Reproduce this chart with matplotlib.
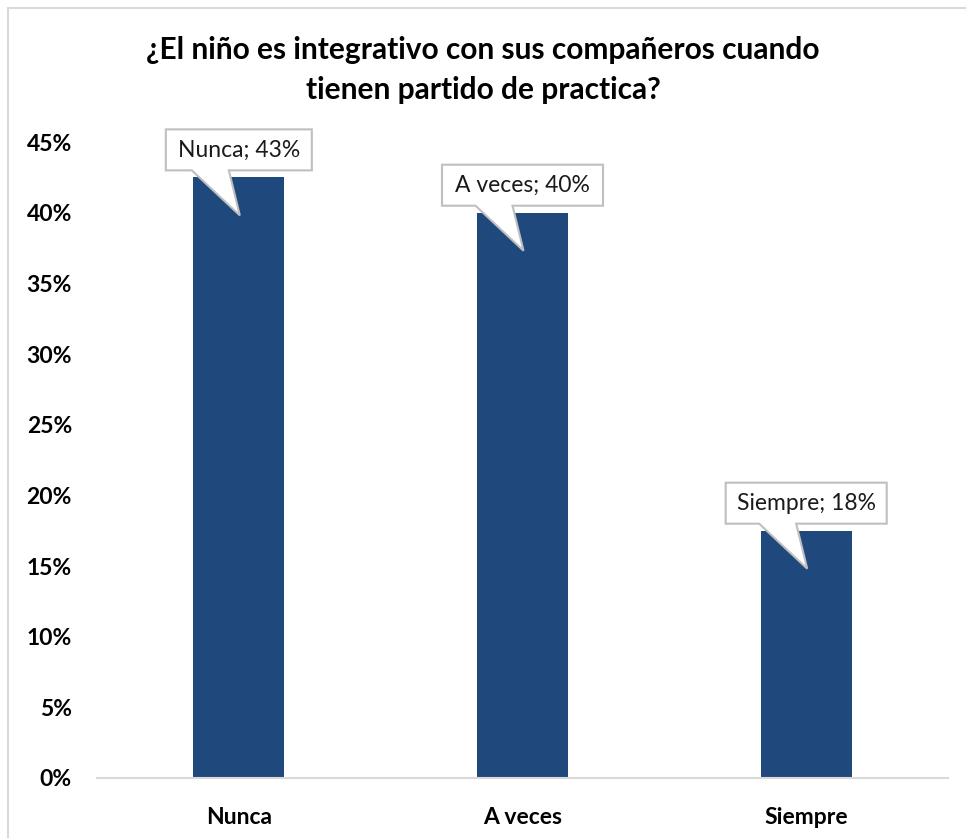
import matplotlib
matplotlib.use('Agg')
import matplotlib.pyplot as plt
import matplotlib.transforms as mtransforms
from matplotlib.patches import Polygon, Rectangle
from matplotlib.ticker import FuncFormatter

categorias = ['Nunca', 'A veces', 'Siempre']
valores = [42.5, 40.0, 17.5]
etiquetas = ['Nunca; 43%', 'A veces; 40%', 'Siempre; 18%']
titulo = '¿El niño es integrativo con sus compañeros cuando\ntienen partido de practica?'

plt.rcParams['font.family'] = ['Lato', 'DejaVu Sans']

fig = plt.figure(figsize=(9.66, 8.38), dpi=100)
ax = fig.add_axes([0.1004, 0.0716, 0.881, 0.7589])

x = list(range(len(categorias)))
ax.bar(x, valores, width=0.32, color='#1f497d', zorder=2)

ax.set_xlim(-0.5, len(categorias) - 0.5)
ax.set_ylim(0, 45)
ax.set_yticks(range(0, 46, 5))
ax.yaxis.set_major_formatter(FuncFormatter(lambda v, p: f'{v:.0f}%'))
ax.set_xticks(x)
ax.set_xticklabels(categorias)
ax.tick_params(length=0)
ax.tick_params(axis='y', pad=18, labelsize=16.5)
ax.tick_params(axis='x', pad=21, labelsize=16.5)
for lab in ax.get_xticklabels() + ax.get_yticklabels():
    lab.set_fontweight('bold')

for s in ['top', 'right', 'left']:
    ax.spines[s].set_visible(False)
ax.spines['bottom'].set_color('#d9d9d9')
ax.spines['bottom'].set_linewidth(1.5)

# callouts (offsets in pixels from the top of each bar)
anchos = [146, 161, 161]
for xi, v, txt, w in zip(x, valores, etiquetas, anchos):
    trans = mtransforms.IdentityTransform() + mtransforms.ScaledTranslation(xi, v, ax.transData)
    b = 7  # box bottom above bar top
    h = 41
    verts = [(-w / 2, b), (-w / 2, b + h), (w / 2, b + h), (w / 2, b),
             (-10, b), (1, -38), (-47, b)]
    poly = Polygon(verts, closed=True, transform=trans, facecolor='white',
                   edgecolor='#bfbfbf', linewidth=1.5, zorder=3, clip_on=False)
    ax.add_patch(poly)
    ax.text(0, b + h / 2, txt, transform=trans, ha='center', va='center',
            fontsize=16.5, color='#1a1a1a', zorder=4)

fig.text(0.5, 0.9165, titulo, ha='center', va='center', fontsize=21.5,
         fontweight='bold', linespacing=1.5)

fig.patches.append(Rectangle((8 / 966, -0.05), 1.2, 0.05 + 1 - 8 / 838,
                             transform=fig.transFigure, fill=False,
                             edgecolor='#d9d9d9', linewidth=1.5))

fig.savefig('out.png', dpi=100)
